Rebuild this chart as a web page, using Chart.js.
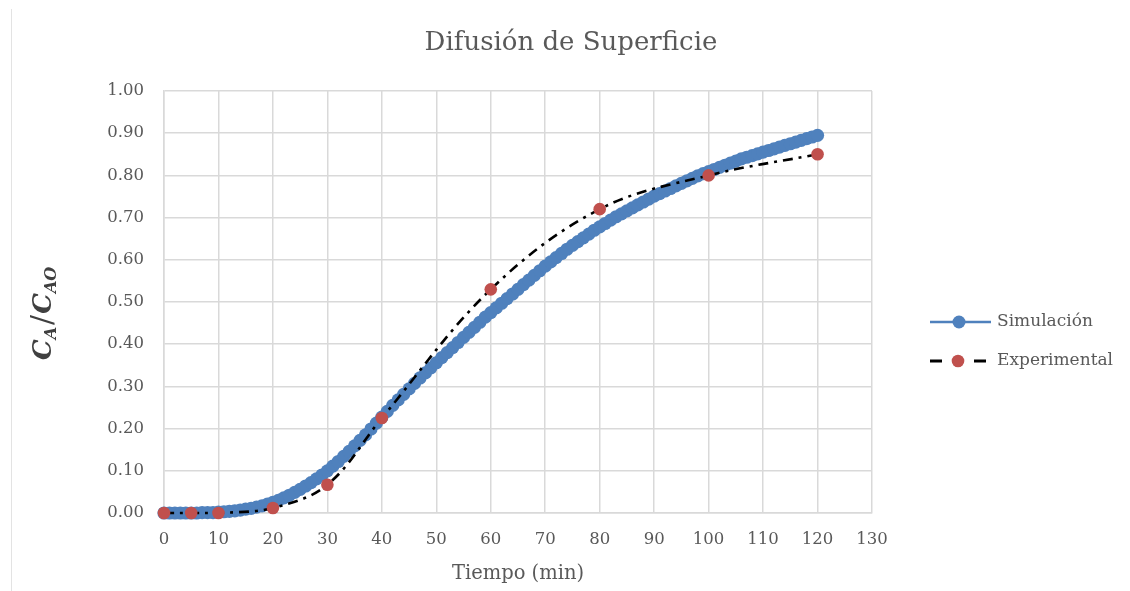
<!DOCTYPE html>
<html>
<head>
<meta charset="utf-8">
<script src="https://cdn.jsdelivr.net/npm/chart.js@4"></script>
<style>
  html, body { margin: 0; padding: 0; background: #ffffff; }
  #wrap { position: relative; width: 1130px; height: 591px; }
  canvas { display: block; }
</style>
</head>
<body>
<div id="wrap"><canvas id="c" width="1130" height="591"></canvas></div>
<script>
// Tiempo (min) for the simulated profile, one value per minute
const simTime = Array.from({ length: 121 }, (_, i) => i);
// C_A / C_AO from the surface-diffusion simulation
const simConc = [
  0.000, 0.000, 0.000, 0.000, 0.000, 0.000, 0.000, 0.001, 0.001, 0.001, 0.002,
  0.003, 0.004, 0.005, 0.007, 0.009, 0.011, 0.014, 0.017, 0.021, 0.025,
  0.030, 0.036, 0.042, 0.049, 0.056, 0.064, 0.072, 0.081, 0.090, 0.100,
  0.111, 0.122, 0.134, 0.146, 0.159, 0.172, 0.185, 0.199, 0.213, 0.227,
  0.241, 0.255, 0.268, 0.281, 0.294, 0.307, 0.320, 0.332, 0.344, 0.356,
  0.368, 0.380, 0.392, 0.404, 0.416, 0.428, 0.440, 0.452, 0.464, 0.475,
  0.486, 0.497, 0.508, 0.519, 0.530, 0.541, 0.552, 0.563, 0.574, 0.585,
  0.595, 0.605, 0.615, 0.625, 0.634, 0.643, 0.652, 0.661, 0.670, 0.678,
  0.686, 0.694, 0.702, 0.709, 0.716, 0.723, 0.730, 0.737, 0.744, 0.751,
  0.757, 0.763, 0.769, 0.775, 0.781, 0.787, 0.793, 0.799, 0.804, 0.809,
  0.814, 0.819, 0.824, 0.829, 0.834, 0.839, 0.843, 0.847, 0.851, 0.855,
  0.859, 0.863, 0.867, 0.871, 0.875, 0.879, 0.883, 0.887, 0.891, 0.895
];
// Measured samples
const expTime = [0, 5, 10, 20, 30, 40, 60, 80, 100, 120];
const expConc = [0.000, 0.000, 0.000, 0.012, 0.067, 0.225, 0.530, 0.720, 0.800, 0.850];

// Axis ticks
const xTicks = [0, 10, 20, 30, 40, 50, 60, 70, 80, 90, 100, 110, 120, 130];
const yTicks = [0.0, 0.1, 0.2, 0.3, 0.4, 0.5, 0.6, 0.7, 0.8, 0.9, 1.0];

const seriesNames = ['Simulación', 'Experimental'];
const titleText = 'Difusión de Superficie';
const xTitle = 'Tiempo (min)';

const BLUE = '#4f81bd';
const RED = '#c0504d';
const GRID = '#d9d9d9';
const TEXT = '#595959';
const SERIF = '"DejaVu Serif", "Liberation Serif", serif';

const toXY = (xs, ys) => xs.map((x, i) => ({ x: x, y: ys[i] }));

// Title, y-axis title with subscripts, legend and frame line
const decorations = {
  id: 'decorations',
  afterDraw(chart) {
    const ctx = chart.ctx;
    ctx.save();

    // frame line at the left edge
    ctx.strokeStyle = '#e3e3e3';
    ctx.lineWidth = 1;
    ctx.beginPath();
    ctx.moveTo(11.5, 9);
    ctx.lineTo(11.5, 591);
    ctx.stroke();

    // chart title
    ctx.fillStyle = TEXT;
    ctx.font = '26px ' + SERIF;
    ctx.textAlign = 'center';
    ctx.textBaseline = 'middle';
    ctx.fillText(titleText, 571, 43);

    // y-axis title: C_A / C_AO, rotated
    ctx.save();
    ctx.translate(51, 360);
    ctx.rotate(-Math.PI / 2);
    ctx.fillStyle = '#404040';
    ctx.textAlign = 'left';
    ctx.textBaseline = 'alphabetic';
    const big = 'italic bold 26px ' + SERIF;
    const small = 'italic bold 16px ' + SERIF;
    const parts = [
      { t: 'C', f: big, dy: 0, gap: 0 },
      { t: 'A', f: small, dy: 5, gap: 2 },
      { t: '/', f: '30px ' + SERIF, dy: 1, gap: 1 },
      { t: 'C', f: big, dy: 0, gap: 0 },
      { t: 'AO', f: small, dy: 5, gap: 0 }
    ];
    let px = 0;
    parts.forEach(p => {
      ctx.font = p.f;
      ctx.fillText(p.t, px, p.dy);
      px += ctx.measureText(p.t).width + p.gap;
    });
    ctx.restore();

    // legend
    ctx.font = '17px ' + SERIF;
    ctx.textAlign = 'left';
    ctx.textBaseline = 'middle';

    // Simulación entry
    ctx.strokeStyle = BLUE;
    ctx.lineWidth = 2.5;
    ctx.beginPath();
    ctx.moveTo(930, 322);
    ctx.lineTo(991, 322);
    ctx.stroke();
    ctx.fillStyle = BLUE;
    ctx.beginPath();
    ctx.arc(959, 322, 6.5, 0, Math.PI * 2);
    ctx.fill();
    ctx.fillStyle = TEXT;
    ctx.fillText(seriesNames[0], 997, 322);

    // Experimental entry
    ctx.strokeStyle = '#000000';
    ctx.lineWidth = 3;
    ctx.beginPath();
    ctx.moveTo(930, 361);
    ctx.lineTo(942, 361);
    ctx.moveTo(974, 361);
    ctx.lineTo(986, 361);
    ctx.stroke();
    ctx.fillStyle = RED;
    ctx.beginPath();
    ctx.arc(958, 361, 6.3, 0, Math.PI * 2);
    ctx.fill();
    ctx.fillStyle = TEXT;
    ctx.fillText(seriesNames[1], 997, 361);

    ctx.restore();
  }
};

new Chart(document.getElementById('c'), {
  type: 'scatter',
  data: {
    datasets: [
      {
        label: seriesNames[0],
        data: toXY(simTime, simConc),
        showLine: true,
        borderColor: BLUE,
        borderWidth: 10,
        borderJoinStyle: 'round',
        borderCapStyle: 'round',
        backgroundColor: BLUE,
        pointRadius: 6.6,
        pointBorderWidth: 0,
        pointBackgroundColor: BLUE,
        tension: 0,
        clip: false,
        order: 2
      },
      {
        label: seriesNames[1],
        data: toXY(expTime, expConc),
        showLine: true,
        borderColor: '#000000',
        borderWidth: 2.6,
        borderDash: [10, 6, 3, 6],
        borderCapStyle: 'butt',
        backgroundColor: RED,
        pointRadius: 6.3,
        pointBorderWidth: 0,
        pointBackgroundColor: RED,
        tension: 0.36,
        clip: false,
        order: 1
      }
    ]
  },
  options: {
    responsive: false,
    animation: false,
    devicePixelRatio: 1,
    layout: { padding: { top: 91, right: 258, bottom: 0, left: 0 } },
    plugins: {
      legend: { display: false },
      title: { display: false },
      tooltip: { enabled: false }
    },
    scales: {
      x: {
        type: 'linear',
        min: xTicks[0],
        max: xTicks[xTicks.length - 1],
        afterBuildTicks(axis) { axis.ticks = xTicks.map(v => ({ value: v })); },
        afterFit(axis) { axis.height = 78; },
        ticks: {
          color: TEXT,
          font: { family: SERIF, size: 16.5 },
          padding: 17,
          maxRotation: 0,
          callback: v => String(v)
        },
        grid: { color: GRID, lineWidth: 1.5, drawTicks: false },
        border: { color: GRID, width: 1.5 },
        title: {
          display: true,
          text: xTitle,
          color: TEXT,
          font: { family: SERIF, size: 19.5 },
          padding: { top: 0, bottom: 5 }
        }
      },
      y: {
        type: 'linear',
        min: yTicks[0],
        max: yTicks[yTicks.length - 1],
        afterBuildTicks(axis) { axis.ticks = yTicks.map(v => ({ value: v })); },
        afterFit(axis) { axis.width = 164; },
        ticks: {
          color: TEXT,
          font: { family: SERIF, size: 16.5 },
          padding: 20,
          callback: v => Number(v).toFixed(2)
        },
        grid: { color: GRID, lineWidth: 1.5, drawTicks: false },
        border: { color: GRID, width: 1.5 }
      }
    }
  },
  plugins: [decorations]
});
</script>
</body>
</html>
